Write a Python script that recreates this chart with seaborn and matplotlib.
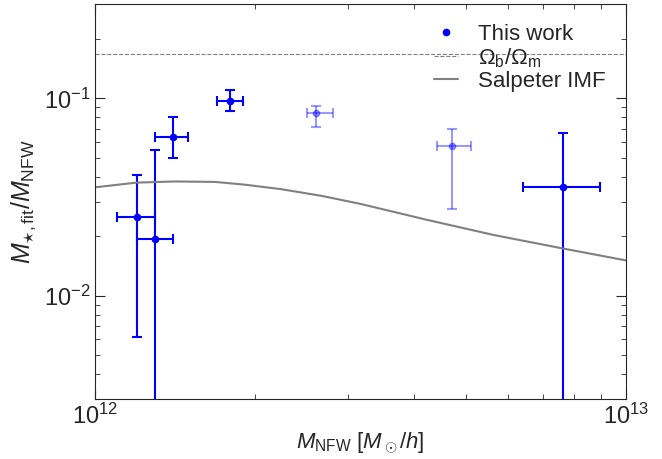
import matplotlib
matplotlib.use("Agg")
import matplotlib.pyplot as plt
import matplotlib.ticker as mticker
from matplotlib.lines import Line2D
import seaborn as sns

# data points (halo mass bins)
m_nfw = [1.20e12, 1.30e12, 1.40e12, 1.80e12, 2.61e12, 4.70e12, 7.62e12]
m_lo = [1.10e12, 1.20e12, 1.30e12, 1.70e12, 2.51e12, 4.41e12, 6.41e12]
m_hi = [1.30e12, 1.40e12, 1.50e12, 1.90e12, 2.81e12, 5.11e12, 8.93e12]
ratio = [0.0250, 0.0193, 0.0640, 0.0966, 0.0843, 0.0574, 0.0354]
ratio_lo = [0.00616, 0.0010, 0.0500, 0.0860, 0.0714, 0.0274, 0.0010]
ratio_hi = [0.0408, 0.0546, 0.0804, 0.1097, 0.0915, 0.0703, 0.0671]
faded = [False, False, False, False, True, True, False]

# Salpeter IMF curve
salp_m = [1.0e12, 1.198e12, 1.415e12, 1.684e12, 1.918e12, 2.25e12, 2.68e12,
          3.16e12, 4.23e12, 5.64e12, 7.62e12, 1.0e13]
salp_r = [0.0354, 0.0374, 0.0379, 0.0377, 0.0365, 0.0346, 0.0320,
          0.0292, 0.0242, 0.0203, 0.01734, 0.0151]

omega_ratio = 0.1667

sns.set_style("ticks")
plt.rcParams["font.family"] = ["Liberation Sans", "DejaVu Sans"]
plt.rcParams["mathtext.fontset"] = "custom"
plt.rcParams["mathtext.rm"] = "Liberation Sans"
plt.rcParams["mathtext.it"] = "Liberation Sans:italic"
plt.rcParams["mathtext.bf"] = "Liberation Sans:bold"

fig, ax = plt.subplots(figsize=(6.62, 4.59), dpi=100)
fig.subplots_adjust(left=0.1435, right=0.945, top=0.991, bottom=0.131)

for i in range(len(m_nfw)):
    a = 0.4 if faded[i] else 1.0
    ax.errorbar(
        m_nfw[i], ratio[i],
        xerr=[[m_nfw[i] - m_lo[i]], [m_hi[i] - m_nfw[i]]],
        yerr=[[ratio[i] - ratio_lo[i]], [ratio_hi[i] - ratio[i]]],
        fmt="o", color="blue", ms=4.5, elinewidth=1.5, capsize=3.5,
        capthick=1.5, alpha=a,
    )

ax.axhline(omega_ratio, color="gray", ls="--", lw=0.8)
sns.lineplot(x=salp_m, y=salp_r, ax=ax, color="gray", lw=1.5)

ax.set_xscale("log")
ax.set_yscale("log")
ax.set_xlim(1e12, 1e13)
ax.set_ylim(3e-3, 3e-1)
ax.xaxis.set_minor_formatter(mticker.NullFormatter())
ax.yaxis.set_minor_formatter(mticker.NullFormatter())

ax.tick_params(which="both", direction="in", top=True, right=True, labelsize=17)
ax.tick_params(which="major", length=7)
ax.tick_params(which="minor", length=3.5)

ax.set_xlabel(r"$M_\mathrm{NFW}\ \left[M_\odot/h\right]$", fontsize=16, labelpad=1)
ax.set_ylabel(r"$M_{\star,\mathrm{fit}}/M_\mathrm{NFW}$", fontsize=18)

handles = [
    Line2D([], [], marker="o", ls="none", color="blue", ms=4.5),
    Line2D([], [], ls="--", color="gray", lw=0.8),
    Line2D([], [], ls="-", color="gray", lw=1.5),
]
labels = ["This work", r"$\Omega_\mathrm{b}/\Omega_\mathrm{m}$", "Salpeter IMF"]
ax.legend(handles, labels, loc="upper right", frameon=False, fontsize=16,
          handlelength=1.1, handletextpad=0.9, labelspacing=0.05)

fig.savefig("out.png", dpi=100)
